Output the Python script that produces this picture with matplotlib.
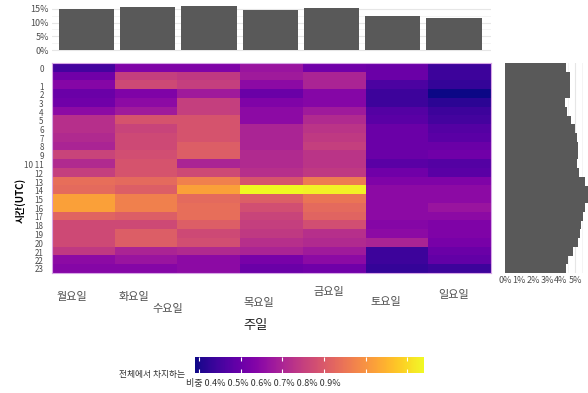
import matplotlib
matplotlib.use("Agg")
import matplotlib.pyplot as plt
import numpy as np

plt.rcParams["font.family"] = ["Noto Sans CJK KR", "DejaVu Sans"]

days = ["월요일", "화요일", "수요일", "목요일", "금요일", "토요일", "일요일"]
day_share = [15.1, 15.85, 16.2, 14.75, 15.25, 12.4, 11.7]

hour_labels = ["0", "1", "2", "3", "4", "5", "6", "7", "8", "9", "10 11",
               "12", "13", "14", "15", "16", "17", "18", "19", "20", "21", "22", "23"]
hour_share = [4.36, 4.64, 4.64, 4.64, 4.29, 4.45, 4.71, 5.0, 5.17, 5.24, 5.24, 5.12,
              5.31, 5.71, 5.9, 5.9, 5.71, 5.6, 5.4, 5.36, 5.24, 4.88, 4.52, 4.36]

# share of all records (%) per hour (rows) and weekday (columns)
cell_share = [
    [0.45, 0.53, 0.53, 0.57, 0.51, 0.50, 0.44],
    [0.51, 0.65, 0.64, 0.58, 0.60, 0.50, 0.44],
    [0.54, 0.67, 0.65, 0.55, 0.60, 0.46, 0.43],
    [0.50, 0.53, 0.58, 0.50, 0.54, 0.44, 0.39],
    [0.51, 0.55, 0.65, 0.53, 0.54, 0.44, 0.42],
    [0.55, 0.58, 0.65, 0.55, 0.58, 0.47, 0.44],
    [0.62, 0.69, 0.69, 0.55, 0.61, 0.48, 0.45],
    [0.62, 0.66, 0.69, 0.60, 0.63, 0.50, 0.47],
    [0.61, 0.67, 0.69, 0.60, 0.64, 0.50, 0.48],
    [0.60, 0.67, 0.71, 0.60, 0.65, 0.50, 0.50],
    [0.66, 0.68, 0.71, 0.61, 0.63, 0.50, 0.51],
    [0.61, 0.69, 0.60, 0.61, 0.63, 0.48, 0.47],
    [0.65, 0.69, 0.67, 0.62, 0.64, 0.51, 0.48],
    [0.74, 0.73, 0.77, 0.69, 0.76, 0.53, 0.53],
    [0.73, 0.71, 0.82, 0.94, 0.93, 0.55, 0.55],
    [0.82, 0.77, 0.73, 0.71, 0.75, 0.55, 0.55],
    [0.82, 0.77, 0.74, 0.68, 0.73, 0.55, 0.57],
    [0.72, 0.71, 0.74, 0.66, 0.72, 0.55, 0.55],
    [0.67, 0.67, 0.71, 0.65, 0.68, 0.54, 0.53],
    [0.67, 0.71, 0.67, 0.64, 0.62, 0.55, 0.53],
    [0.67, 0.71, 0.68, 0.62, 0.61, 0.60, 0.52],
    [0.64, 0.60, 0.61, 0.60, 0.58, 0.44, 0.50],
    [0.55, 0.57, 0.55, 0.52, 0.55, 0.44, 0.49],
    [0.54, 0.54, 0.55, 0.50, 0.51, 0.43, 0.44],
]

cbar_ticks = [0.4, 0.5, 0.6, 0.7, 0.8, 0.9]


def main():
    W, H = 588, 393
    fig = plt.figure(figsize=(W / 100, H / 100), dpi=100)

    def box(x0, y0, x1, y1):
        return [x0 / W, 1 - y1 / H, (x1 - x0) / W, (y1 - y0) / H]

    grey_txt = "#4d4d4d"
    bar_col = "#595959"

    # main heatmap
    ax = fig.add_axes(box(52, 63, 491, 273))
    data = np.array(cell_share)
    im = ax.imshow(data, aspect="auto", cmap="plasma", interpolation="nearest")
    ax.set_xlim(-0.5, 6.5)
    ax.set_ylim(23.5, -0.5)
    for s in ax.spines.values():
        s.set_color("#d7a6e6")
        s.set_linewidth(0.8)
    ax.set_xticks([])
    # tick labels sit a little off the rows in the original
    ytick_pos = [0.1, 2.2, 3.15, 4.1, 5.1, 6.1, 7.1, 8.1, 9.1, 10.1, 11.05] + \
        [h + 0.1 for h in range(12, 23)] + [23.0]
    ax.set_yticks(ytick_pos)
    ax.set_yticklabels(hour_labels, fontsize=5.8, color=grey_txt)
    ax.tick_params(axis="y", length=0, pad=6)

    # weekday labels, jittered like the source
    dx = [-11, -12, -41, -13, -5, -11, -6]
    dy = [24, 24, 36, 30, 19, 29, 22]
    for i, d in enumerate(days):
        ax.annotate(d, xy=(i, 0), xycoords=("data", "axes fraction"),
                    xytext=(dx[i] * 0.72, -dy[i] * 0.72), textcoords="offset points",
                    ha="center", va="center", fontsize=8, color=grey_txt)

    # top marginal: share by weekday
    axt = fig.add_axes(box(52, 5, 491, 52))
    axt.bar(range(7), day_share, width=0.9, color=bar_col, zorder=2)
    axt.set_xlim(-0.563, 6.604)
    axt.set_ylim(-0.73, 16.46)
    axt.set_yticks([0, 5, 10, 15])
    axt.set_yticks([2.5, 7.5, 12.5], minor=True)
    axt.set_yticklabels(["0%", "5%", "10%", "15%"], fontsize=6.5, color=grey_txt)
    axt.set_xticks([])
    axt.grid(axis="y", which="major", color="#e6e6e6", linewidth=0.8, zorder=0)
    axt.grid(axis="y", which="minor", color="#f2f2f2", linewidth=0.6, zorder=0)
    axt.tick_params(axis="y", which="both", length=0, pad=2)
    for s in axt.spines.values():
        s.set_visible(False)

    # right marginal: share by hour
    axr = fig.add_axes(box(505, 63, 588, 273))
    axr.barh(range(24), hour_share, height=1.0, color=bar_col, zorder=2)
    axr.set_ylim(23.5, -0.5)
    axr.set_xlim(0, 83 / 14)
    axr.set_xticks([0, 1, 2, 3, 4, 5])
    axr.set_xticks([0.5, 1.5, 2.5, 3.5, 4.5, 5.5], minor=True)
    axr.set_xticklabels(["0%", "1%", "2%", "3%", "4%", "5%"], fontsize=6.5, color=grey_txt)
    axr.set_yticks([])
    axr.grid(axis="x", which="major", color="#e6e6e6", linewidth=0.8, zorder=0)
    axr.grid(axis="x", which="minor", color="#f2f2f2", linewidth=0.6, zorder=0)
    axr.tick_params(axis="x", which="both", length=0, pad=2)
    for s in axr.spines.values():
        s.set_visible(False)

    # axis titles
    fig.text(20 / W, 1 - 200 / H, "시간(UTC)", rotation=90, ha="center", va="center",
             fontsize=7, fontweight="bold", color="black")
    fig.text(256 / W, 1 - 326 / H, "주일", ha="center", va="center",
             fontsize=9.5, color="#222222")

    # colour legend
    cax = fig.add_axes(box(195, 357, 424, 373))
    cbar = fig.colorbar(im, cax=cax, orientation="horizontal", ticks=cbar_ticks)
    cbar.outline.set_visible(False)
    cax.tick_params(which="both", direction="in", length=3, width=0.8, color="white",
                    top=True, bottom=True, labelbottom=False)
    fig.text(152 / W, 1 - 375 / H, "전체에서 차지하는", ha="center", va="center",
             fontsize=6.3, color="#333333")
    fig.text(186 / W, 1 - 383.5 / H,
             "비중 " + " ".join(f"{t:.1f}%" for t in cbar_ticks),
             ha="left", va="center", fontsize=6.5, color="#333333")

    fig.savefig("out.png", dpi=100)
    plt.close(fig)


if __name__ == "__main__":
    main()
